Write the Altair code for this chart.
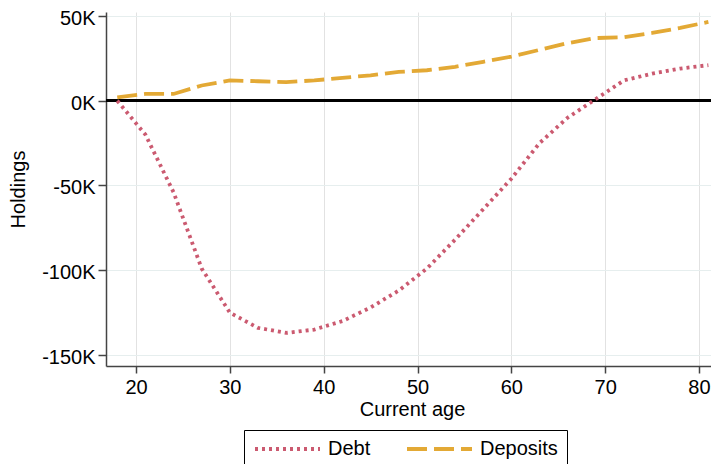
import altair as alt
import pandas as pd

ages = [18, 21, 24, 27, 30, 33, 36, 39, 42, 45, 48, 51, 54, 57, 60, 63, 66, 69, 72, 75, 78, 81]
debt = [0, -20000, -54000, -99000, -125000, -134000, -137000, -135000, -130000, -122000,
        -112000, -99000, -82000, -64000, -46000, -25000, -10000, 1000, 12000, 16000, 19000, 21000]
deposits = [2000, 4000, 4000, 9000, 12000, 11500, 11000, 12000, 13500, 15000, 17000, 18000,
            20000, 23000, 26000, 30000, 34000, 37000, 37500, 40000, 43000, 46500]

series_names = ["Debt", "Deposits"]
series_colors = ["#cb5a70", "#e3a935"]
series_dash = [[3, 4], [20, 7]]

rows = []
for a, v in zip(ages, debt):
    rows.append({"age": a, "value": v, "series": "Debt"})
for a, v in zip(ages, deposits):
    rows.append({"age": a, "value": v, "series": "Deposits"})
df = pd.DataFrame(rows)

FONT = "Liberation Sans"
FS = 20

legend_cfg = dict(
    orient="none",
    legendX=138,
    legendY=418,
    direction="horizontal",
    title=None,
    strokeColor="#000000",
    padding=9,
    symbolType="stroke",
    symbolSize=4225,
    symbolStrokeWidth=3.8,
    clipHeight=20,
    labelFontSize=FS,
    labelFont=FONT,
    labelColor="#000000",
    labelOffset=6,
    columnPadding=34,
)

x_enc = alt.X(
    "age:Q",
    scale=alt.Scale(domain=[16.8, 81.28], nice=False, zero=False),
    axis=alt.Axis(
        values=[20, 30, 40, 50, 60, 70, 80],
        title="Current age",
        titleX=306,
        grid=True,
        gridColor="#e2e2e2",
        tickSize=7,
        labelPadding=4,
        titlePadding=2,
    ),
)
y_enc = alt.Y(
    "value:Q",
    scale=alt.Scale(domain=[-156500, 52360], nice=False, zero=False),
    axis=alt.Axis(
        values=[-150000, -100000, -50000, 0, 50000],
        labelExpr="datum.value / 1000 + 'K'",
        title="Holdings",
        grid=True,
        gridColor="#e6eeee",
        tickSize=8,
        labelPadding=3,
        labelOffset=2.5,
        titlePadding=13,
    ),
)

zero = alt.Chart(df).mark_rule(color="#000000", strokeWidth=2).encode(y=alt.datum(0))

lines = alt.Chart(df).mark_line(strokeWidth=3.8, clip=True).encode(
    x=x_enc,
    y=y_enc,
    color=alt.Color("series:N", scale=alt.Scale(domain=series_names, range=series_colors),
                    legend=alt.Legend(**legend_cfg)),
    strokeDash=alt.StrokeDash("series:N", scale=alt.Scale(domain=series_names, range=series_dash),
                              legend=alt.Legend(**legend_cfg)),
)

chart = (
    alt.layer(zero, lines)
    .properties(
        width=605,
        height=354,
        autosize=alt.AutoSizeParams(type="none"),
        padding={"left": 98, "top": 4, "right": 0, "bottom": 114},
    )
    .configure_view(stroke=None)
    .configure_axis(
        labelFont=FONT,
        titleFont=FONT,
        labelFontSize=FS,
        titleFontSize=FS,
        titleFontWeight="normal",
        labelColor="#000000",
        titleColor="#000000",
        domainColor="#444444",
        domainWidth=1.5,
        tickColor="#444444",
        tickWidth=1.5,
    )
)

chart.save("out.html", embed_options={"renderer": "svg", "actions": False})
